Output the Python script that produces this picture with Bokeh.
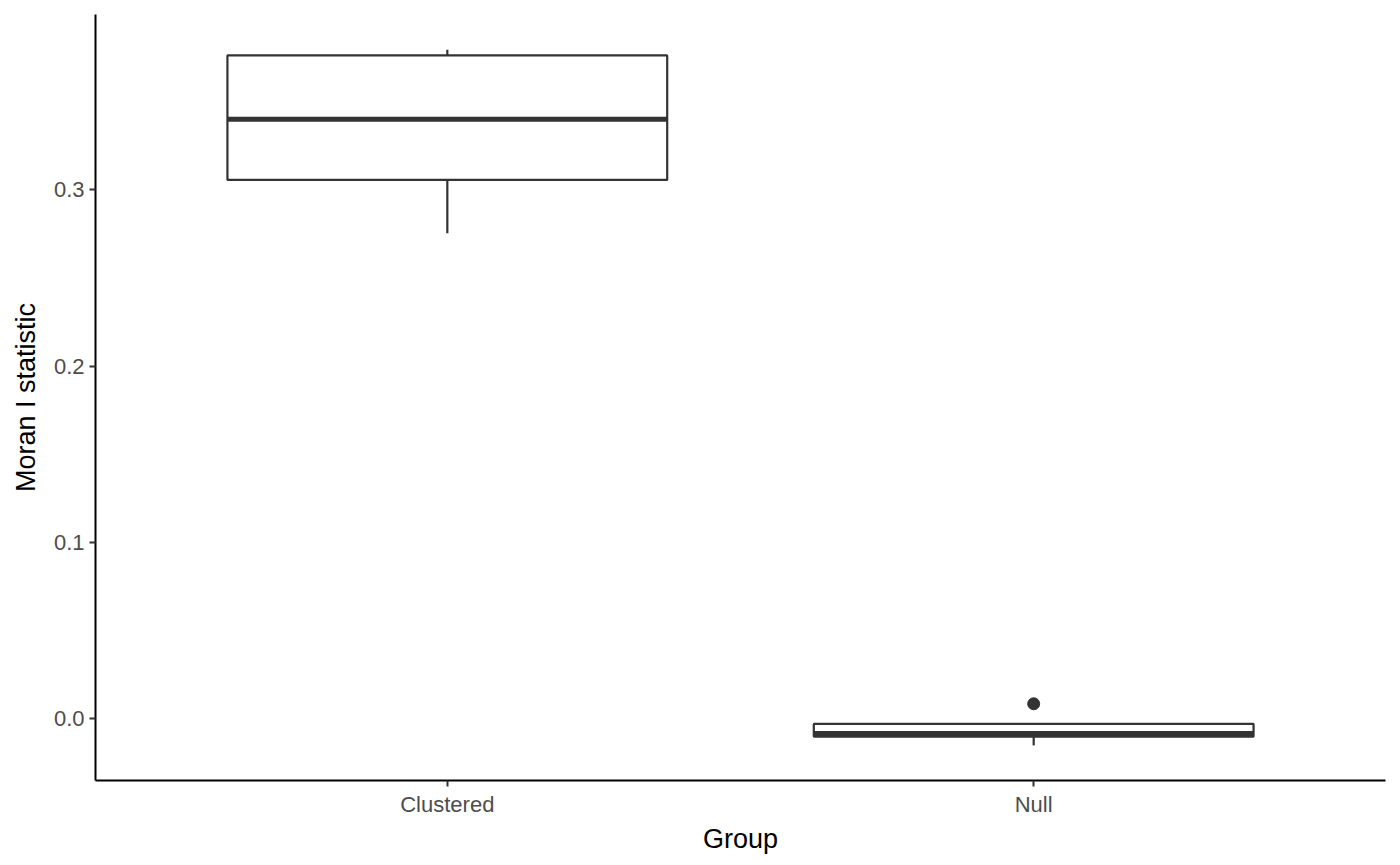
from bokeh.plotting import figure
from bokeh.models import FactorRange, Range1d, FixedTicker, PrintfTickFormatter, ColumnDataSource
from bokeh.embed import file_html
from bokeh.resources import INLINE

# ---- data ----
groups = ["Clustered", "Null"]
lower_whisker = [0.2754, -0.0151]
q1 = [0.3056, -0.0101]
median = [0.3400, -0.0083]
q3 = [0.3762, -0.0029]
upper_whisker = [0.3794, -0.0029]
outlier_group = ["Null"]
outlier_value = [0.0085]
y_ticks = [0.0, 0.1, 0.2, 0.3]

FONT = "Liberation Sans"
LINE = "#333333"
BOX_W = 0.75

p = figure(
    width=1392, height=857,
    x_range=FactorRange(factors=groups, range_padding=0.1, range_padding_units="absolute"),
    y_range=Range1d(-0.0350, 0.3994),
    output_backend="svg", toolbar_location=None,
    min_border_left=95, min_border_right=7, min_border_top=14, min_border_bottom=77,
)
p.background_fill_color = "white"
p.border_fill_color = "white"
p.outline_line_color = None
p.xgrid.visible = False
p.ygrid.visible = False

src = ColumnDataSource(dict(
    g=groups, lw=lower_whisker, q1=q1, med=median, q3=q3, uw=upper_whisker,
    left=[(g, -BOX_W / 2) for g in groups], right=[(g, BOX_W / 2) for g in groups],
))

# whiskers
p.segment(x0="g", x1="g", y0="q3", y1="uw", source=src, line_color=LINE, line_width=2.2)
p.segment(x0="g", x1="g", y0="lw", y1="q1", source=src, line_color=LINE, line_width=2.2)
# boxes
p.vbar(x="g", width=BOX_W, bottom="q1", top="q3", source=src,
       fill_color="white", line_color=LINE, line_width=2.2)
# medians
p.segment(x0="left", x1="right", y0="med", y1="med", source=src,
          line_color=LINE, line_width=5)
# outliers
p.scatter(x=outlier_group, y=outlier_value, size=12, fill_color=LINE, line_color=LINE)

# axes
for ax in (p.xaxis[0], p.yaxis[0]):
    ax.axis_line_color = "black"
    ax.axis_line_width = 2
    ax.major_tick_line_color = LINE
    ax.major_tick_line_width = 2
    ax.major_tick_in = 0
    ax.major_tick_out = 6
    ax.minor_tick_line_color = None
    ax.major_label_text_font = FONT
    ax.major_label_text_font_size = "22px"
    ax.major_label_text_color = "#4D4D4D"
    ax.axis_label_text_font = FONT
    ax.axis_label_text_font_size = "27px"
    ax.axis_label_text_font_style = "normal"
    ax.axis_label_text_color = "black"
    ax.major_label_standoff = 5

p.xaxis.axis_label = "Group"
p.yaxis.axis_label = "Moran I statistic"
p.xaxis.axis_label_standoff = 4
p.yaxis.axis_label_standoff = 10
p.yaxis.ticker = FixedTicker(ticks=y_ticks)
p.yaxis.formatter = PrintfTickFormatter(format="%.1f")

open("out.html", "w").write(file_html(p, INLINE))
